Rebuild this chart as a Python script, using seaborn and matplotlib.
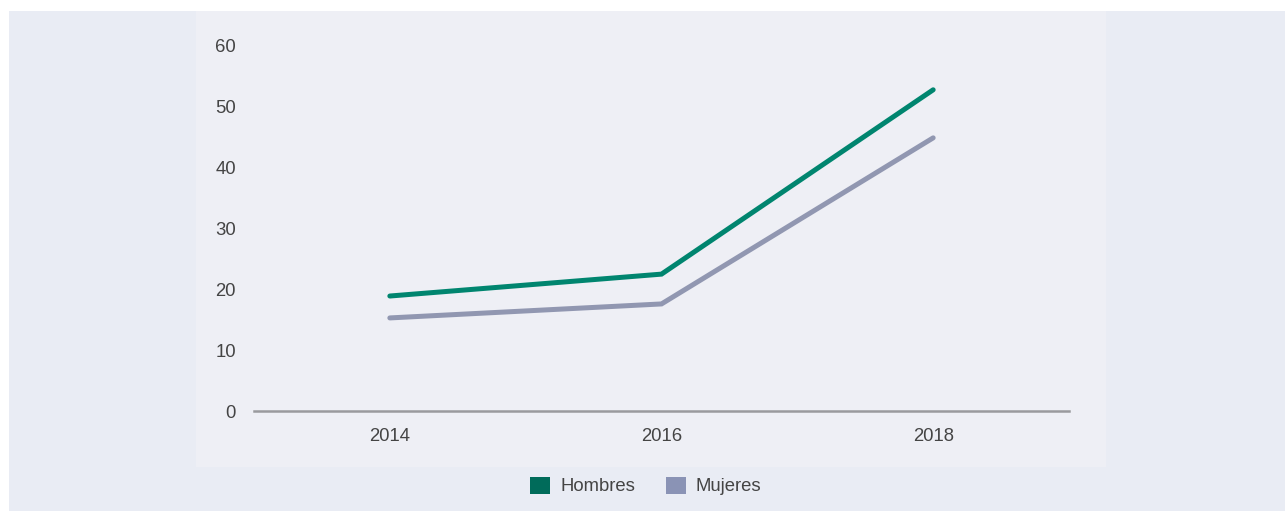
import matplotlib
matplotlib.use("Agg")
import matplotlib.pyplot as plt
from matplotlib.patches import Rectangle, Patch
import seaborn as sns
import pandas as pd

years = [2014, 2016, 2018]
hombres = [18.9, 22.5, 52.8]
mujeres = [15.3, 17.6, 44.9]
series_names = ["Hombres", "Mujeres"]
y_ticks = [0, 10, 20, 30, 40, 50, 60]

df = pd.DataFrame({
    "year": years * 2,
    "value": hombres + mujeres,
    "serie": [series_names[0]] * 3 + [series_names[1]] * 3,
})

sns.set_theme(style="white")
plt.rcParams['font.family'] = ['Liberation Sans', 'DejaVu Sans']

W, H = 1285, 511
fig = plt.figure(figsize=(W / 100, H / 100), dpi=100)
fig.patch.set_facecolor("white")

def frect(x0, y0, x1, y1, color):
    fig.patches.append(Rectangle((x0 / W, 1 - y1 / H), (x1 - x0) / W, (y1 - y0) / H,
                                 transform=fig.transFigure, facecolor=color,
                                 edgecolor="none", zorder=-5))

frect(9, 11, W, H, "#E9ECF4")
frect(196, 11, 1106, 467, "#EEEFF5")

ax = fig.add_axes([254 / W, 100 / H, (1069 - 254) / W, (465 - 100) / H])
ax.set_facecolor("none")
ax.set_zorder(2)

line_colors = {"Hombres": "#00856F", "Mujeres": "#9197B1"}
legend_colors = {"Hombres": "#006B5A", "Mujeres": "#8A93B5"}

sns.lineplot(data=df, x="year", y="value", hue="serie", palette=line_colors,
             linewidth=3.6, ax=ax, legend=False)

ax.set_xlim(2013, 2019)
ax.set_ylim(0, 60)
ax.set_xticks(years)
ax.set_xticklabels([str(y) for y in years])
ax.set_yticks(y_ticks)
ax.set_yticklabels([str(t) for t in y_ticks])
ax.set_xlabel("")
ax.set_ylabel("")

for s in ["top", "right", "left"]:
    ax.spines[s].set_visible(False)
ax.spines["bottom"].set_color("#9A9A9E")
ax.spines["bottom"].set_linewidth(1.8)
ax.spines["bottom"].set_zorder(0)

ax.tick_params(axis="both", length=0, labelsize=13.3, labelcolor="#444444")
ax.tick_params(axis="y", pad=13)
ax.tick_params(axis="x", pad=12)
ax.grid(False)
for ln in ax.lines:
    ln.set_solid_capstyle("round")
    ln.set_solid_joinstyle("miter")
    ln.set_clip_on(False)

handles = [Patch(facecolor=legend_colors[n], edgecolor="none", label=n) for n in series_names]
fig.legend(handles=handles, loc="center", bbox_to_anchor=(646 / W, 1 - 486 / H),
           ncol=2, frameon=False, fontsize=13.3, handlelength=1.05, handleheight=1.05,
           handletextpad=0.55, columnspacing=1.7, labelcolor="#444444")

fig.savefig("out.png", dpi=100)
